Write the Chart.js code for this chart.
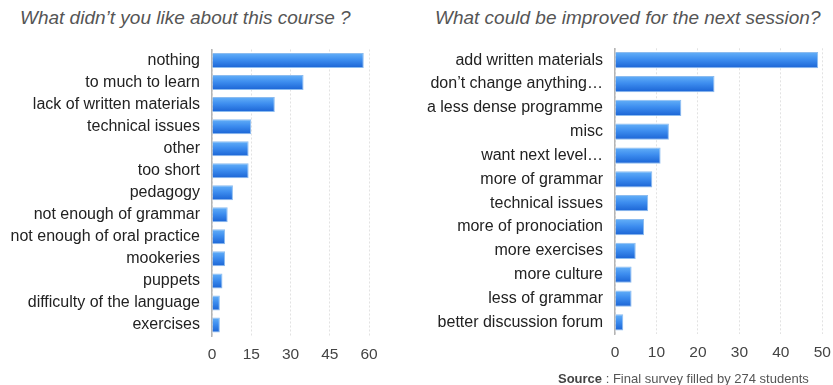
<!DOCTYPE html>
<html>
<head>
<meta charset="utf-8">
<title>Course survey</title>
<script src="https://cdn.jsdelivr.net/npm/chart.js"></script>
<style>
body {
  margin: 0;
  width: 833px;
  height: 385px;
  background: #fff;
  font-family: "Liberation Sans", Arial, sans-serif;
  position: relative;
  overflow: hidden;
}
.title {
  position: absolute;
  top: 6px;
  font-size: 19px;
  line-height: 24px;
  font-style: italic;
  color: #555;
  white-space: nowrap;
}
.box {
  position: absolute;
  top: 0;
  height: 385px;
}
.source {
  position: absolute;
  left: 558px;
  top: 371px;
  font-size: 13px;
  line-height: 16px;
  color: #555;
  white-space: nowrap;
}
.source b { color: #444; }
</style>
</head>
<body>

<div class="title" style="left:20px">What didn’t you like about this course ?</div>
<div class="title" style="left:435px">What could be improved for the next session?</div>

<div class="box" style="left:0;width:420px"><canvas id="dislikeChart"></canvas></div>
<div class="box" style="left:420px;width:413px"><canvas id="improveChart"></canvas></div>

<div class="source"><b>Source</b> : Final survey filled by 274 students</div>

<script>
// left chart: what students didn't like
const dislikeLabels = [
  "nothing", "to much to learn", "lack of written materials", "technical issues",
  "other", "too short", "pedagogy", "not enough of grammar",
  "not enough of oral practice", "mookeries", "puppets",
  "difficulty of the language", "exercises"
];
const dislikeCounts = [58, 35, 24, 15, 14, 14, 8, 6, 5, 5, 4, 3, 3];
const dislikeTicks = [0, 15, 30, 45, 60];

// right chart: suggested improvements
const improveLabels = [
  "add written materials", "don’t change anything…", "a less dense programme",
  "misc", "want next level…", "more of grammar", "technical issues",
  "more of pronociation", "more exercises", "more culture",
  "less of grammar", "better discussion forum"
];
const improveCounts = [49, 24, 16, 13, 11, 9, 8, 7, 5, 4, 4, 2];
const improveTicks = [0, 10, 20, 30, 40, 50];

const BAR_FRACTION = 0.68;

// vertical blue gradient per bar, lighter on top
function barGradient(ctx) {
  const chart = ctx.chart;
  const y = chart.scales.y;
  if (!y || ctx.dataIndex === undefined) return '#3b87e6';
  const center = y.getPixelForValue(ctx.dataIndex);
  const step = Math.abs(y.getPixelForValue(1) - y.getPixelForValue(0));
  if (!isFinite(center) || !isFinite(step) || step === 0) return '#3b87e6';
  const half = step * BAR_FRACTION / 2;
  const g = chart.ctx.createLinearGradient(0, center - half, 0, center + half);
  g.addColorStop(0, '#64b0f8');
  g.addColorStop(0.45, '#3d8def');
  g.addColorStop(1, '#1a63d4');
  return g;
}

function makeChart(canvas, labels, values, ticks, opts) {
  return new Chart(canvas, {
    type: 'bar',
    data: {
      labels,
      datasets: [{
        data: values,
        backgroundColor: barGradient,
        borderColor: '#8cbcf0',
        borderWidth: 1,
        borderSkipped: 'left',
        barPercentage: BAR_FRACTION,
        categoryPercentage: 1
      }]
    },
    options: {
      indexAxis: 'y',
      responsive: true,
      maintainAspectRatio: false,
      animation: false,
      events: [],
      layout: { padding: { top: opts.top, right: opts.right, left: 0, bottom: 0 } },
      plugins: { legend: { display: false }, tooltip: { enabled: false } },
      scales: {
        x: {
          min: 0,
          max: ticks[ticks.length - 1],
          afterBuildTicks: s => { s.ticks = ticks.map(v => ({ value: v })); },
          afterFit: s => { s.height = opts.xHeight; },
          // invisible tick marks keep the labels low without widening the side padding
          grid: { color: '#e2e2e2', drawTicks: true, tickLength: 8, tickColor: 'rgba(0,0,0,0)' },
          border: { display: false, dash: [2, 2] },
          ticks: {
            padding: 1,
            color: '#444',
            font: { family: 'Liberation Sans', size: 15.5 }
          }
        },
        y: {
          afterFit: s => { s.width = opts.yWidth; },
          grid: { display: false, drawTicks: false },
          border: { display: true, color: '#b5b5b5', width: 1.5 },
          ticks: {
            padding: 12,
            color: '#222',
            autoSkip: false,
            font: { family: 'Liberation Sans', size: 16 }
          }
        }
      }
    }
  });
}

makeChart(document.getElementById('dislikeChart'), dislikeLabels, dislikeCounts, dislikeTicks,
  { top: 49.5, right: 51, xHeight: 49, yWidth: 212 });

makeChart(document.getElementById('improveChart'), improveLabels, improveCounts, improveTicks,
  { top: 48.3, right: 10.7, xHeight: 50.7, yWidth: 195 });
</script>

</body>
</html>
